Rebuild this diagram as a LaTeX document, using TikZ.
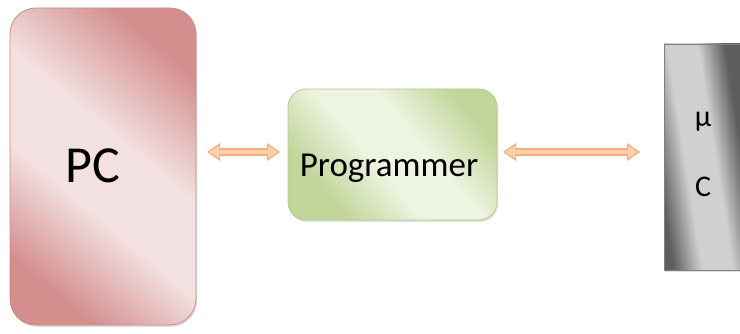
\documentclass[tikz,border=0pt]{standalone}
\usepackage{fontspec}
\setmainfont{Carlito}
\usetikzlibrary{arrows.meta,shadows}
\definecolor{pinkdark}{HTML}{D48E8E}
\definecolor{pinklight}{HTML}{F3E1E1}
\definecolor{pinkedge}{HTML}{C98A8A}
\definecolor{greendark}{HTML}{C2D59A}
\definecolor{greenlight}{HTML}{EEF4E2}
\definecolor{greenedge}{HTML}{B5CB8A}
\definecolor{graydark}{HTML}{5E5E5E}
\definecolor{graylight}{HTML}{D0D0D0}
\definecolor{grayedge}{HTML}{808080}
\definecolor{peach}{HTML}{FAD0AC}
\definecolor{peachedge}{HTML}{F2AE7C}
\pgfdeclareverticalshading{pcshade}{100bp}{color(0bp)=(pinkdark); color(25bp)=(pinkdark); color(42bp)=(pinklight); color(56bp)=(pinklight); color(75bp)=(pinkdark); color(100bp)=(pinkdark)}
\pgfdeclareverticalshading{prshade}{100bp}{color(0bp)=(greendark); color(28bp)=(greendark); color(45bp)=(greenlight); color(58bp)=(greenlight); color(75bp)=(greendark); color(100bp)=(greendark)}
\pgfdeclarehorizontalshading{ucshade}{100bp}{color(0bp)=(graydark); color(26bp)=(graydark); color(40bp)=(graylight); color(55bp)=(graylight); color(68bp)=(graydark); color(100bp)=(graydark)}
\tikzset{
  box/.style={draw, line width=0.8pt, drop shadow={opacity=0.25, shadow xshift=1pt, shadow yshift=-2pt}},
  txt/.style={inner sep=0pt, anchor=base, text=black},
  linkout/.style={line width=7.5pt, draw=peachedge, {Triangle[length=13pt,width=17pt]}-{Triangle[length=13pt,width=17pt]}},
  linkin/.style={line width=4pt, draw=peach, {Triangle[length=10pt,width=12pt]}-{Triangle[length=10pt,width=12pt]}}
}
\begin{document}
\begin{tikzpicture}[x=1pt,y=-1pt]
\useasboundingbox (0,0) rectangle (740,334);
% PC box
\path[box, draw=pinkedge, rounded corners=26pt, shading=pcshade, shading angle=-40]
  (10,8) rectangle (196,325);
\coordinate (pcE) at (196,152);
% Programmer box
\path[box, draw=greenedge, rounded corners=18pt, shading=prshade, shading angle=-50]
  (288,89) rectangle (497,220);
\coordinate (prW) at (288,152);
\coordinate (prE) at (497,152);
% uC box
\path[box, draw=grayedge, shading=ucshade, shading angle=9]
  (664,44) rectangle (746,270);
\coordinate (ucW) at (664,152);
% texts
\node[txt, font=\fontsize{52}{52}\selectfont] (pc) at (93,183) {PC};
\node[txt, font=\fontsize{35}{35}\selectfont] (prog) at (389,177) {Programmer};
\node[txt, font=\fontsize{30}{30}\selectfont] (mu) at (703,127) {µ};
\node[txt, font=\fontsize{30}{30}\selectfont] (c) at (703,197) {C};
% arrows
\draw[linkout, shorten <=11pt, shorten >=8pt] (pcE) -- (prW);
\draw[linkin, shorten <=13pt, shorten >=10pt] (pcE) -- (prW);
\draw[linkout, shorten <=6pt, shorten >=24pt] (prE) -- (ucW);
\draw[linkin, shorten <=8pt, shorten >=26pt] (prE) -- (ucW);
\end{tikzpicture}
\end{document}
